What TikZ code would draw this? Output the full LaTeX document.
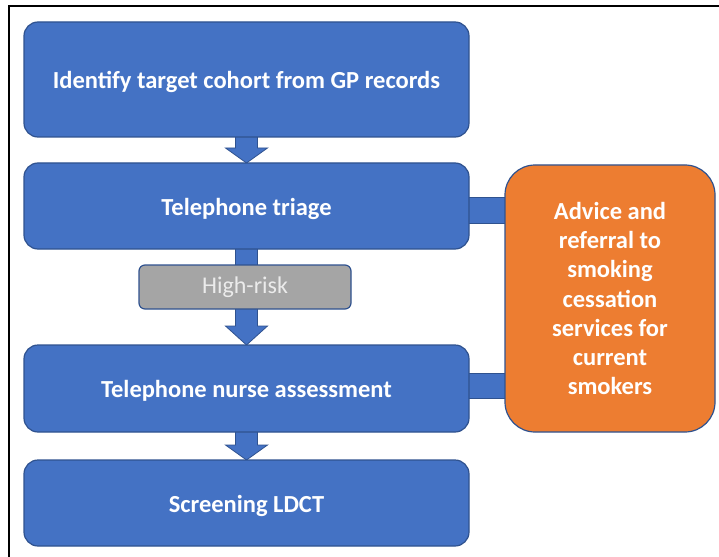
\documentclass[tikz,border=0pt]{standalone}
\usepackage{fontspec}
\setmainfont{Carlito}
\definecolor{boxblue}{HTML}{4472C4}
\definecolor{edgeblue}{HTML}{2F528F}
\definecolor{boxorange}{HTML}{ED7D31}
\definecolor{boxgray}{HTML}{A5A5A5}
\tikzset{
  stage/.style={draw=edgeblue, line width=1.2pt, fill=boxblue, rounded corners=14pt,
    text=white, font=\fontsize{24.5}{28}\selectfont\bfseries,
    text height=18pt, text depth=0pt},
  advice/.style={draw=edgeblue, line width=1.2pt, fill=boxorange, rounded corners=30pt,
    text=white, font=\fontsize{24.5}{29.2}\selectfont\bfseries, align=center},
  riskbox/.style={draw=edgeblue, line width=1.2pt, fill=boxgray, rounded corners=6pt,
    text=white!92!black, font=\fontsize{24}{27}\selectfont},
  blockarrow/.style={draw=edgeblue, line width=0.8pt, fill=boxblue},
  linkbar/.style={draw=edgeblue, line width=0.8pt, fill=boxblue}
}
\begin{document}
\begin{tikzpicture}[x=1pt, y=-1pt]
\useasboundingbox (0,0) rectangle (719,556);
% frame
\draw[line width=1.2pt] (9,560) -- (9,6) -- (719,6);

% side links to the advice box (drawn first, boxes sit on top)
\draw[linkbar] (460,197) rectangle (510,223);
\draw[linkbar] (460,373) rectangle (510,398);

% block arrows between stages
\draw[blockarrow] (235.5,135) -- (257.5,135) -- (257.5,148) -- (267.5,148) -- (246.5,163)
  -- (225.5,148) -- (235.5,148) -- cycle;
\draw[blockarrow] (235.5,247) -- (257.5,247) -- (257.5,326) -- (267.5,326) -- (246.5,345)
  -- (225.5,326) -- (235.5,326) -- cycle;
\draw[blockarrow] (235.5,430) -- (257.5,430) -- (257.5,445) -- (267.5,445) -- (246.5,460)
  -- (225.5,445) -- (235.5,445) -- cycle;

% stages
\node[stage, minimum width=445pt, minimum height=115pt] (cohort) at (246.5,79.5)
  {Identify target cohort from GP records};
\node[stage, minimum width=445pt, minimum height=86pt] (triage) at (246.5,206)
  {Telephone triage};
\node[riskbox, minimum width=212pt, minimum height=44pt] (risk) at (245,287)
  {High-risk};
\node[stage, minimum width=445pt, minimum height=87pt] (nurse) at (246.5,388.5)
  {Telephone nurse assessment};
\node[stage, minimum width=445pt, minimum height=86pt] (ldct) at (246.5,503)
  {Screening LDCT};

% smoking cessation advice
\node[advice, minimum width=210pt, minimum height=267pt] (advice) at (610,298.5)
  {Advice and\\referral to\\smoking\\cessation\\services for\\current\\smokers};
\end{tikzpicture}
\end{document}
